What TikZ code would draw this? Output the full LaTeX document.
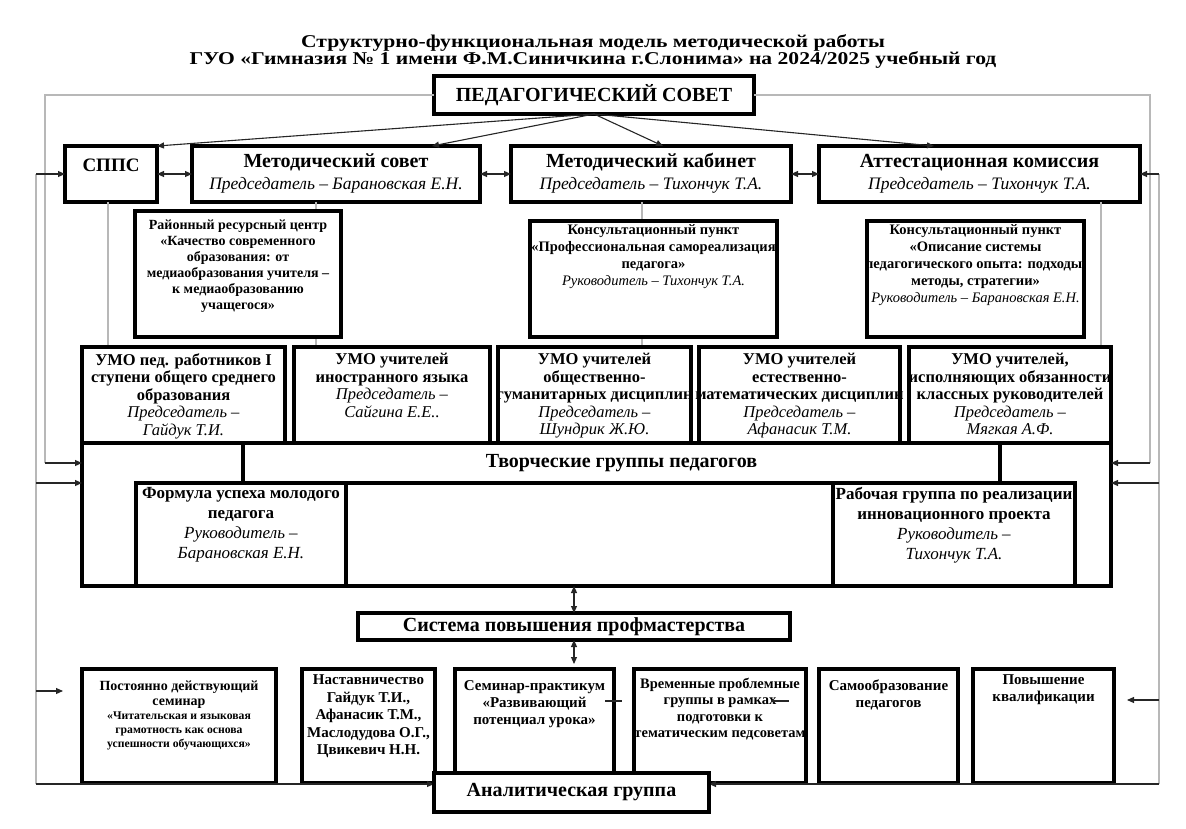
\documentclass[tikz,border=0pt]{standalone}
\usepackage{fontspec}
\setmainfont{Liberation Serif}
\usetikzlibrary{arrows.meta}
\newcommand\BX[5]{\node[box, minimum width={#4-#2}, minimum height={#5-#3}] (#1) at ({(#2+#4)/2},{(#3+#5)/2}) {};}
\newcommand\fs[2]{\fontsize{#1}{#2}\selectfont}
\begin{document}
\begin{tikzpicture}[x=1pt,y=-1pt,
  box/.style={draw, line width=3.5pt, fill=white, inner sep=0pt, outer sep=0pt},
  thin/.style={line width=1.1pt, draw=black!85},
  gry/.style={line width=1.1pt, draw=black!28},
  tip/.style={-{Triangle[length=7pt,width=6pt]}},
  dtip/.style={{Triangle[length=7pt,width=6pt]}-{Triangle[length=7pt,width=6pt]}},
  txt/.style={align=center, inner sep=0pt, anchor=north},
  ctxt/.style={align=center, inner sep=0pt, anchor=center},
  btxt/.style={inner sep=0pt, anchor=base},
]
\useasboundingbox (0,0) rectangle (1186,829);

% named turning points
\coordinate (gl1) at (45,95);
\coordinate (gl2) at (45,463);
\coordinate (gr1) at (1150,95);
\coordinate (gr2) at (1150,463);
\coordinate (ol1) at (36,174);
\coordinate (ol2) at (36,784);
\coordinate (or1) at (1159,174);
\coordinate (or2) at (1159,784);
\coordinate (yA) at (0,483);
\coordinate (yB) at (0,691);
\coordinate (yC) at (0,700);
\coordinate (tipL) at (63,691);
\coordinate (tipR) at (1127,700);
\coordinate (t1) at (432,0);
\coordinate (t2) at (663,0);
\coordinate (t3) at (934,0);
\coordinate (sb) at (0,664);
\coordinate (v1) at (108,0);
\coordinate (v2) at (316,0);
\coordinate (v3) at (642,0);
\coordinate (v4) at (1101,0);
\coordinate (s1) at (605,701);
\coordinate (s2) at (622,701);
\coordinate (s3) at (771,701);
\coordinate (s4) at (789,701);

% title
\node[txt, font={\fs{18}{16.5}\bfseries}] (title) at (593,34)
 {\scalebox{1.2}[1]{Структурно-функциональная модель методической работы}\\\scalebox{1.2}[1]{ГУО «Гимназия № 1 имени Ф.М.Синичкина г.Слонима» на 2024/2025 учебный год}};

\BX{ps}{434}{76}{754}{114}
\BX{spps}{65}{146}{157}{202}
\BX{ms}{192}{146}{480}{202}
\BX{mk}{511}{146}{791}{202}
\BX{ak}{819}{146}{1140}{202}

% grey lines (behind the lower boxes)
\draw[gry] (ps.west) -- (gl1) -- (gl2);
\draw[gry] (ps.east) -- (gr1) -- (gr2);
\draw[gry] (ol1) -- (ol2);
\draw[gry] (or1) -- (or2);
\draw[gry] (spps.south -| v1) -- (v1 |- 0,347);
\draw[gry] (ms.south -| v2) -- (v2 |- 0,347);
\draw[gry] (mk.south -| v3) -- (v3 |- 0,347);
\draw[gry] (ak.south -| v4) -- (v4 |- 0,347);

\BX{rrc}{135}{211}{341}{337}
\BX{kp1}{530}{221}{777}{337}
\BX{kp2}{867}{221}{1084}{337}
\BX{tg}{82}{443}{1111}{586}
\BX{bar}{243}{443}{1000}{483}
\BX{u1}{82}{347}{285}{443}
\BX{u2}{294}{347}{490}{443}
\BX{u3}{498}{347}{691}{443}
\BX{u4}{699}{347}{900}{443}
\BX{u5}{909}{347}{1111}{443}
\BX{fu}{136}{483}{346}{586}
\BX{rg}{833}{483}{1075}{586}
\BX{sys}{358}{613}{790}{640}
\BX{b1}{82}{669}{276}{783}
\BX{b2}{302}{669}{435}{783}
\BX{b3}{455}{669}{614}{783}
\BX{b4}{634}{669}{806}{783}
\BX{b5}{819}{669}{958}{783}
\BX{b6}{973}{669}{1114}{783}

% texts
\node[ctxt, font={\fs{20}{22}\bfseries}] (ps-t) at (ps.center) {ПЕДАГОГИЧЕСКИЙ СОВЕТ};
\node[btxt, font={\fs{19}{22}\bfseries}] (spps-t) at (111,172) {СППС};
\node[btxt, font={\fs{20}{22}\bfseries}] (ms-t) at (336,168) {Методический совет};
\node[btxt, font={\fs{17.5}{22}\itshape}] (ms-c) at (336,190) {Председатель – Барановская Е.Н.};
\node[btxt, font={\fs{20}{22}\bfseries}] (mk-t) at (651,168) {Методический кабинет};
\node[btxt, font={\fs{17.5}{22}\itshape}] (mk-c) at (651,190) {Председатель – Тихончук Т.А.};
\node[btxt, font={\fs{20}{22}\bfseries}] (ak-t) at (979.5,168) {Аттестационная комиссия};
\node[btxt, font={\fs{17.5}{22}\itshape}] (ak-c) at (979.5,190) {Председатель – Тихончук Т.А.};

\node[txt, font={\fs{14}{16}\bfseries}] (rrc-t) at (238,220) {Районный ресурсный центр\\«Качество современного\\образования: от\\медиаобразования учителя –\\к медиаобразованию\\учащегося»};
\node[txt, font={\fs{14.5}{17}}] (kp1-t) at (653.5,224.6) {\textbf{Консультационный пункт}\\\textbf{«Профессиональная самореализация}\\\textbf{педагога»}\\\textit{Руководитель – Тихончук Т.А.}};
\node[txt, font={\fs{14.5}{17}}] (kp2-t) at (975.5,224.6) {\textbf{Консультационный пункт}\\\textbf{«Описание системы}\\\textbf{педагогического опыта: подходы,}\\\textbf{методы, стратегии»}\\\textit{Руководитель – Барановская Е.Н.}};

\node[txt, font={\fs{16.5}{17.5}}] (u1-t) at (183.5,353) {\textbf{УМО пед. работников I}\\\textbf{ступени общего среднего}\\\textbf{образования}\\\textit{Председатель –}\\\textit{Гайдук Т.И.}};
\node[txt, font={\fs{16.5}{17.5}}] (u2-t) at (392,353) {\textbf{УМО учителей}\\\textbf{иностранного языка}\\\textit{Председатель –}\\\textit{Сайгина Е.Е..}};
\node[txt, font={\fs{16.5}{17.5}}] (u3-t) at (594.5,353) {\textbf{УМО учителей}\\\textbf{общественно-}\\\textbf{гуманитарных дисциплин}\\\textit{Председатель –}\\\textit{Шундрик Ж.Ю.}};
\node[txt, font={\fs{16.5}{17.5}}] (u4-t) at (799.5,353) {\textbf{УМО учителей}\\\textbf{естественно-}\\\textbf{математических дисциплин}\\\textit{Председатель –}\\\textit{Афанасик Т.М.}};
\node[txt, font={\fs{16.5}{17.5}}] (u5-t) at (1010,353) {\textbf{УМО учителей,}\\\textbf{исполняющих обязанности}\\\textbf{классных руководителей}\\\textit{Председатель –}\\\textit{Мягкая А.Ф.}};

\node[ctxt, font={\fs{20}{22}\bfseries}] (bar-t) at (bar.center) {Творческие группы педагогов};
\node[txt, font={\fs{17}{20}}] (fu-t) at (241,487) {\textbf{Формула успеха молодого}\\\textbf{педагога}\\\textit{Руководитель –}\\\textit{Барановская Е.Н.}};
\node[txt, font={\fs{17}{20}}] (rg-t) at (954,487) {\textbf{Рабочая группа по реализации}\\\textbf{инновационного проекта}\\\textit{Руководитель –}\\\textit{Тихончук Т.А.}};

\node[ctxt, font={\fs{20}{22}\bfseries}] (sys-t) at (sys.center) {Система повышения профмастерства};

\node[txt, font={\fs{14}{15}\bfseries}] (b1-t) at (179,680.6) {Постоянно действующий\\семинар};
\node[txt, font={\fs{11.7}{14}\bfseries}] (b1-s) at (179,711.7) {«Читательская и языковая\\грамотность как основа\\успешности обучающихся»};
\node[txt, font={\fs{15}{17.5}\bfseries}] (b2-t) at (368.5,674.6) {Наставничество\\Гайдук Т.И.,\\Афанасик Т.М.,\\Маслодудова О.Г.,\\Цвикевич Н.Н.};
\node[txt, font={\fs{15}{17}\bfseries}] (b3-t) at (534.5,680.6) {Семинар-практикум\\«Развивающий\\потенциал урока»};
\node[txt, font={\fs{14.5}{16.5}\bfseries}] (b4-t) at (720,677.8) {Временные проблемные\\группы в рамках\\подготовки к\\тематическим педсоветам};
\node[txt, font={\fs{15}{17}\bfseries}] (b5-t) at (888.5,679.6) {Самообразование\\педагогов};
\node[txt, font={\fs{15}{17}\bfseries}] (b6-t) at (1043.5,674.6) {Повышение\\квалификации};

% arrows
\draw[thin,tip] (ps.south) -- (spps.north east);
\draw[thin,tip] (ps.south) -- (ms.north -| t1);
\draw[thin,tip] (ps.south) -- (mk.north -| t2);
\draw[thin,tip] (ps.south) -- (ak.north -| t3);
\draw[thin,dtip] (spps.east) -- (ms.west);
\draw[thin,dtip] (ms.east) -- (mk.west);
\draw[thin,dtip] (mk.east) -- (ak.west);

\draw[thin,tip] (ol1) -- (spps.west);
\draw[thin,tip] (or1) -- (ak.east);
\draw[thin,tip] (gl2) -- (tg.west |- gl2);
\draw[thin,tip] (gr2) -- (tg.east |- gr2);
\draw[thin,tip] (ol1 |- yA) -- (tg.west |- yA);
\draw[thin,tip] (or1 |- yA) -- (tg.east |- yA);
\draw[thin,tip] (ol1 |- yB) -- (tipL);
\draw[thin,tip] (or1 |- yC) -- (tipR);
\draw[thin,tip] (ol2) -- (434,784);
\draw[thin,tip] (or2) -- (709,784);

\draw[thin,dtip] (sys.north |- tg.south) -- (sys.north);
\draw[thin,dtip] (sys.south) -- (sys.south |- sb);

\draw[thin] (s1) -- (s2);
\draw[thin] (s3) -- (s4);

% analytic group on top
\BX{an}{434}{773}{709}{812}
\node[ctxt, font={\fs{20}{22}\bfseries}] (an-t) at (an.center) {Аналитическая группа};
\end{tikzpicture}
\end{document}
